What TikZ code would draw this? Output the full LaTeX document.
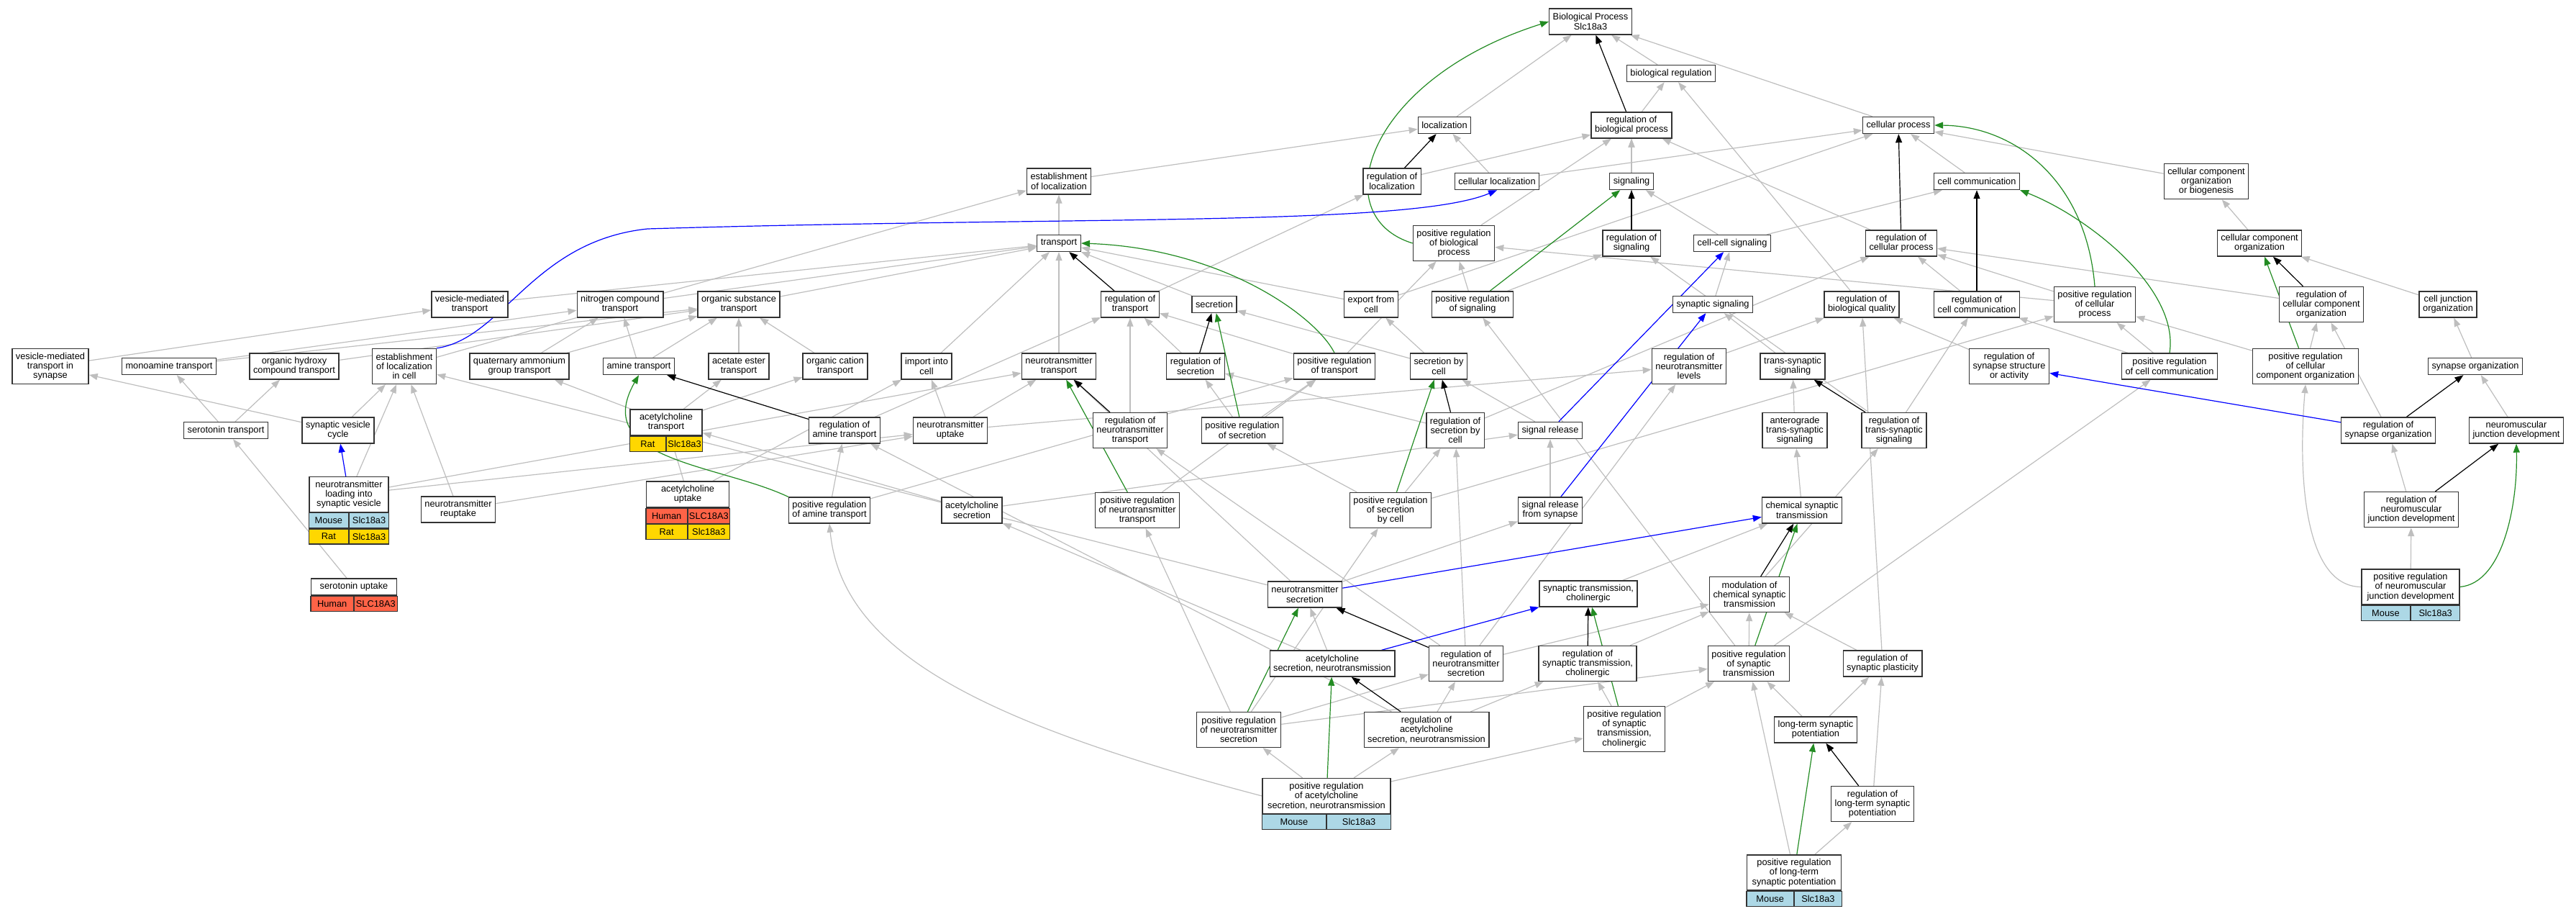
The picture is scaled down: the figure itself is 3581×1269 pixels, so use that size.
\documentclass[tikz,border=0pt]{standalone}
\usepackage{fontspec}
\setmainfont{Liberation Sans}
\usetikzlibrary{arrows.meta,backgrounds}

\definecolor{isagray}{HTML}{BEBEBE}
\definecolor{posgreen}{HTML}{228B22}
\definecolor{mouseblue}{HTML}{ADD8E6}
\definecolor{ratgold}{HTML}{FFD700}
\definecolor{humanred}{HTML}{FF6347}
\definecolor{boxline}{HTML}{333333}

\newcommand\gofont{\fontsize{12.8}{13.3}\selectfont}

\tikzset{
  term/.style={draw=boxline, line width=1.4pt, fill=white, align=center,
    inner xsep=5pt, inner ysep=1pt, font=\gofont},
  one/.style={term, minimum height=23pt},
  two/.style={term, minimum height=36pt},
  three/.style={term, minimum height=49pt},
  four/.style={term, minimum height=63pt},
  gene/.style={draw=boxline, line width=1.2pt, minimum height=21pt,
    inner sep=0pt, font=\gofont},
  link/.style={-{Triangle[length=12pt,width=9pt]}, line width=1.2pt},
  isa/.style={link, isagray},
  reg/.style={link, black},
  posreg/.style={link, posgreen},
  partof/.style={link, blue},
}

% two cells of a gene row under point #1, each #2 wide
\newcommand\generow[6]{%
  \node[gene, fill=#3, minimum width=#2, anchor=north east] (#6a) at (#1) {#4};
  \node[gene, fill=#3, minimum width=#2, anchor=north west] (#6b) at (#1) {#5};}

\begin{document}
\begin{tikzpicture}[x=1pt, y=-1pt]
  \useasboundingbox (0,0) rectangle (3581,1269);

  % Top levels
  \node[two] (bp) at (2211,30) {Biological Process\\Slc18a3};
  \node[one] (bioreg) at (2323,102) {biological regulation};
  \node[one] (loc) at (2008,174) {localization};
  \node[two] (regbp) at (2268,174) {regulation of\\biological process};
  \node[one] (cellproc) at (2639,174) {cellular process};
  \node[two] (estloc) at (1472,252) {establishment\\of localization};
  \node[two] (regloc) at (1935,252) {regulation of\\localization};
  \node[one] (cellloc) at (2081,252) {cellular localization};
  \node[one] (signaling) at (2268,252) {signaling};
  \node[one] (cellcomm) at (2748,252) {cell communication};
  \node[three] (ccob) at (3067,252) {cellular component\\organization\\or biogenesis};
  \node[one] (transport) at (1472,338) {transport};
  \node[three] (posregbp) at (2021,338) {positive regulation\\of biological\\process};
  \node[two] (regsig) at (2268,338) {regulation of\\signaling};
  \node[one] (ccsig) at (2408,338) {cell-cell signaling};
  \node[two] (regcp) at (2643,338) {regulation of\\cellular process};
  \node[two] (cco) at (3141,338) {cellular component\\organization};

  % Middle levels
  \node[two] (vmt) at (653,423) {vesicle-mediated\\transport};
  \node[two] (nct) at (862,423) {nitrogen compound\\transport};
  \node[two] (ost) at (1027,423) {organic substance\\transport};
  \node[two] (regtrans) at (1571,423) {regulation of\\transport};
  \node[one] (secretion) at (1688,423) {secretion};
  \node[two] (export) at (1906,423) {export from\\cell};
  \node[two] (posregsig) at (2047,423) {positive regulation\\of signaling};
  \node[one] (synsig) at (2381,423) {synaptic signaling};
  \node[two] (regbq) at (2588,423) {regulation of\\biological quality};
  \node[two] (regcc) at (2748,423) {regulation of\\cell communication};
  \node[three] (posregcp) at (2912,423) {positive regulation\\of cellular\\process};
  \node[three] (regcco) at (3227,423) {regulation of\\cellular component\\organization};
  \node[two] (cjo) at (3403,423) {cell junction\\organization};

  \node[three] (vmtis) at (70,509) {vesicle-mediated\\transport in\\synapse};
  \node[one] (monoamine) at (235,509) {monoamine transport};
  \node[two] (ohct) at (409,509) {organic hydroxy\\compound transport};
  \node[three] (estloccell) at (562,509) {establishment\\of localization\\in cell};
  \node[two] (qagt) at (722,509) {quaternary ammonium\\group transport};
  \node[one] (amine) at (888,509) {amine transport};
  \node[two] (aet) at (1027,509) {acetate ester\\transport};
  \node[two] (oct) at (1161,509) {organic cation\\transport};
  \node[two] (import) at (1288,509) {import into\\cell};
  \node[two] (ntt) at (1472,509) {neurotransmitter\\transport};
  \node[two] (regsec) at (1662,509) {regulation of\\secretion};
  \node[two] (posregtrans) at (1855,509) {positive regulation\\of transport};
  \node[two] (secbycell) at (2000,509) {secretion by\\cell};
  \node[three] (regntl) at (2348,509) {regulation of\\neurotransmitter\\levels};
  \node[two] (tss) at (2492,509) {trans-synaptic\\signaling};
  \node[three] (regssa) at (2793,509) {regulation of\\synapse structure\\or activity};
  \node[two] (posregccomm) at (3016,509) {positive regulation\\of cell communication};
  \node[three] (posregcco) at (3205,509) {positive regulation\\of cellular\\component organization};
  \node[one] (synorg) at (3441,509) {synapse organization};

  \node[one] (sertrans) at (314,598) {serotonin transport};
  \node[two] (svc) at (470,598) {synaptic vesicle\\cycle};
  \node[two, minimum width=100pt] (acht) at (926,587) {acetylcholine\\transport};
  \node[two] (regamine) at (1174,598) {regulation of\\amine transport};
  \node[two] (ntuptake) at (1321,598) {neurotransmitter\\uptake};
  \node[three] (regntt) at (1571,598) {regulation of\\neurotransmitter\\transport};
  \node[two] (posregsec) at (1727,598) {positive regulation\\of secretion};
  \node[three] (regsbc) at (2023,598) {regulation of\\secretion by\\cell};
  \node[one] (sigrel) at (2155,598) {signal release};
  \node[three] (atss) at (2495,598) {anterograde\\trans-synaptic\\signaling};
  \node[three] (regtss) at (2633,598) {regulation of\\trans-synaptic\\signaling};
  \node[two] (regso) at (3320,598) {regulation of\\synapse organization};
  \node[two] (nmjd) at (3498,598) {neuromuscular\\junction development};

  % Lower levels
  \node[three, minimum width=110pt] (ntload) at (485,687) {neurotransmitter\\loading into\\synaptic vesicle};
  \node[two] (ntreuptake) at (637,708) {neurotransmitter\\reuptake};
  \node[two, minimum width=115pt] (achuptake) at (956,687) {acetylcholine\\uptake};
  \node[two] (posregamine) at (1153,709) {positive regulation\\of amine transport};
  \node[two] (achsec) at (1351,709) {acetylcholine\\secretion};
  \node[three] (posregntt) at (1581,709) {positive regulation\\of neurotransmitter\\transport};
  \node[three] (posregsbc) at (1933,709) {positive regulation\\of secretion\\by cell};
  \node[two] (sigrelsyn) at (2155,709) {signal release\\from synapse};
  \node[two] (cst) at (2505,709) {chemical synaptic\\transmission};
  \node[three] (regnmjd) at (3352,708) {regulation of\\neuromuscular\\junction development};

  \node[one, minimum width=119pt] (seruptake) at (492,815.5) {serotonin uptake};
  \node[two] (ntsec) at (1814,826) {neurotransmitter\\secretion};
  \node[two] (stc) at (2208,825) {synaptic transmission,\\cholinergic};
  \node[three] (mcst) at (2432,826) {modulation of\\chemical synaptic\\transmission};
  \node[three, minimum width=136pt] (posregnmjd) at (3351,815.5) {positive regulation\\of neuromuscular\\junction development};

  \node[two] (achsecnt) at (1852,922) {acetylcholine\\secretion, neurotransmission};
  \node[three] (regnts) at (2038,922) {regulation of\\neurotransmitter\\secretion};
  \node[three] (regstc) at (2207,922) {regulation of\\synaptic transmission,\\cholinergic};
  \node[three] (posregst) at (2431,922) {positive regulation\\of synaptic\\transmission};
  \node[two] (regsp) at (2617,922) {regulation of\\synaptic plasticity};

  \node[three] (posregnts) at (1722,1014) {positive regulation\\of neurotransmitter\\secretion};
  \node[three] (regachsec) at (1983,1014) {regulation of\\acetylcholine\\secretion, neurotransmission};
  \node[four] (posregstc) at (2258,1013) {positive regulation\\of synaptic\\transmission,\\cholinergic};
  \node[two] (ltsp) at (2524,1014) {long-term synaptic\\potentiation};
  \node[three, minimum width=178pt] (posregachsec) at (1844,1106) {positive regulation\\of acetylcholine\\secretion, neurotransmission};
  \node[three] (regltsp) at (2603,1117) {regulation of\\long-term synaptic\\potentiation};
  \node[three, minimum width=131pt] (posregltsp) at (2494,1212.5) {positive regulation\\of long-term\\synaptic potentiation};

  % Gene rows
  \generow{ntload.south}{55pt}{mouseblue}{Mouse}{Slc18a3}{ntloadm}
  \generow{ntloadma.south east}{55pt}{ratgold}{Rat}{Slc18a3}{ntloadr}
  \generow{acht.south}{50pt}{ratgold}{Rat}{Slc18a3}{achtr}
  \generow{achuptake.south}{57.5pt}{humanred}{Human}{SLC18A3}{achuptakeh}
  \generow{achuptakeha.south east}{57.5pt}{ratgold}{Rat}{Slc18a3}{achuptaker}
  \generow{seruptake.south}{59.5pt}{humanred}{Human}{SLC18A3}{seruptakeh}
  \generow{posregnmjd.south}{68pt}{mouseblue}{Mouse}{Slc18a3}{posregnmjdm}
  \generow{posregachsec.south}{89pt}{mouseblue}{Mouse}{Slc18a3}{posregachsecm}
  \generow{posregltsp.south}{65.5pt}{mouseblue}{Mouse}{Slc18a3}{posregltspm}

  \begin{pgfonlayer}{background}
    % is_a links
    \foreach \a/\b in {bioreg/bp, loc/bp, cellproc/bp, regbp/bioreg, regbq/bioreg,
        estloc/loc, cellloc/loc, regloc/regbp, signaling/regbp, regsig/regbp,
        regcp/regbp, posregbp/regbp, cellloc/cellproc, export/cellproc,
        cellcomm/cellproc, ccob/cellproc, transport/estloc, estloccell/estloc,
        regtrans/regloc, ccsig/signaling, ccsig/cellcomm, cco/ccob}
      \draw[isa] (\a) -- (\b);
    \foreach \a/\b in {ntt/transport, secretion/transport, export/transport,
        vmt/transport, nct/transport, ost/transport, import/transport,
        posregtrans/posregbp, posregsig/posregbp, posregcp/posregbp,
        regtss/regsig, posregsig/regsig, synsig/ccsig, regcc/regcp, regcco/regcp,
        posregcp/regcp, regsbc/regcp, cjo/cco, vmtis/vmt}
      \draw[isa] (\a) -- (\b);
    \foreach \a/\b in {monoamine/nct, monoamine/ost, ohct/ost, qagt/nct, qagt/ost,
        amine/nct, amine/ost, aet/ost, oct/ost, regsec/regtrans,
        posregtrans/regtrans, regntt/regtrans, regamine/regtrans,
        secbycell/secretion, secbycell/export, posregst/posregsig, tss/synsig,
        regntl/regbq, regssa/regbq, regsp/regbq, regtss/regcc, posregccomm/regcc,
        posregccomm/posregcp, posregcco/posregcp, posregsbc/posregcp,
        posregcco/regcco, regso/regcco, synorg/cjo}
      \draw[isa] (\a) -- (\b);
    \foreach \a/\b in {svc/vmtis, svc/estloccell, ntload/estloccell,
        ntreuptake/estloccell, ntsec/estloccell, sertrans/monoamine,
        sertrans/ohct, acht/qagt, acht/aet, acht/oct, achuptake/import,
        ntuptake/import, ntuptake/ntt, ntload/ntt, ntsec/ntt, posregsec/regsec,
        regsbc/regsec, posregsec/posregtrans, posregntt/posregtrans,
        posregamine/posregtrans, sigrel/secbycell, ntuptake/regntl,
        regnts/regntl, atss/tss, posregst/posregccomm, nmjd/synorg}
      \draw[isa] (\a) -- (\b);
    \foreach \a/\b in {seruptake/sertrans, achuptake/acht, achsec/acht,
        posregamine/regamine, regachsec/regamine, ntreuptake/ntuptake,
        ntload/ntuptake, regnts/regntt, posregsbc/posregsec, regnts/regsbc,
        posregsbc/regsbc, achsec/sigrel, sigrelsyn/sigrel, cst/atss, mcst/regtss,
        regnmjd/regso, achsecnt/achsec,
        posregnts/posregntt, posregnts/posregsbc, ntsec/sigrelsyn, stc/cst}
      \draw[isa] (\a) -- (\b);
    \foreach \a/\b in {posregst/mcst, regsp/mcst, regstc/mcst, regnts/mcst,
        posregnmjd/regnmjd, achsecnt/ntsec,
        regachsec/regnts, posregnts/regnts, regachsec/regstc, posregstc/regstc,
        posregstc/posregst, posregnts/posregst, ltsp/posregst,
        posregltsp/posregst, ltsp/regsp, regltsp/regsp, posregachsec/posregnts,
        posregachsec/regachsec, posregachsec/posregstc, posregltsp/regltsp}
      \draw[isa] (\a) -- (\b);
    \draw[isa] (posregachsec.west) .. controls (1350,1000) and (1170,900) .. (posregamine.south);
    \draw[isa] (posregnmjd.west) .. controls (3200,815) and (3195,650) .. (posregcco.south);

    % regulates
    \foreach \a/\b in {regbp/bp, regloc/loc, regsig/signaling, regcp/cellproc,
        regcc/cellcomm, regcco/cco, regtrans/transport, regsec/secretion,
        regsbc/secbycell, regamine/amine, regntt/ntt, regtss/tss, regso/synorg,
        regnmjd/nmjd, mcst/cst, regnts/ntsec, regstc/stc, regachsec/achsecnt,
        regltsp/ltsp}
      \draw[reg] (\a) -- (\b);

    % positively regulates
    \foreach \a/\b in {posregsig/signaling, posregsec/secretion,
        posregsbc/secbycell, posregntt/ntt, posregcco/cco,
        posregst/cst, posregnts/ntsec, posregstc/stc,
        posregachsec/achsecnt, posregltsp/ltsp}
      \draw[posreg] (\a) -- (\b);
    \draw[posreg] (posregbp.west) .. controls (1840,300) and (1900,110) .. (bp.west);
    \draw[posreg] (posregcp.north) .. controls (2900,250) and (2800,175) .. (cellproc.east);
    \draw[posreg] (posregccomm.north) .. controls (3030,400) and (2900,300) .. (cellcomm.south east);
    \draw[posreg] (posregamine.north west) .. controls (1000,645) and (820,640) .. (amine.south);
    \draw[posreg] (posregtrans.north) .. controls (1830,440) and (1700,345) .. (transport.east);
    \draw[posreg] (posregnmjd.east) .. controls (3480,810) and (3500,700) .. (nmjd.south);

    % part of
    \foreach \a/\b in {ntload/svc, sigrel/ccsig,
        sigrelsyn/synsig, regso/regssa, ntsec/cst, achsecnt/stc}
      \draw[partof] (\a) -- (\b);
    \draw[partof] (estloccell.north east) .. controls (700,470) and (740,335) .. (900,318)
      .. controls (1500,300) and (1960,315) .. (cellloc.south);
  \end{pgfonlayer}

\end{tikzpicture}
\end{document}
